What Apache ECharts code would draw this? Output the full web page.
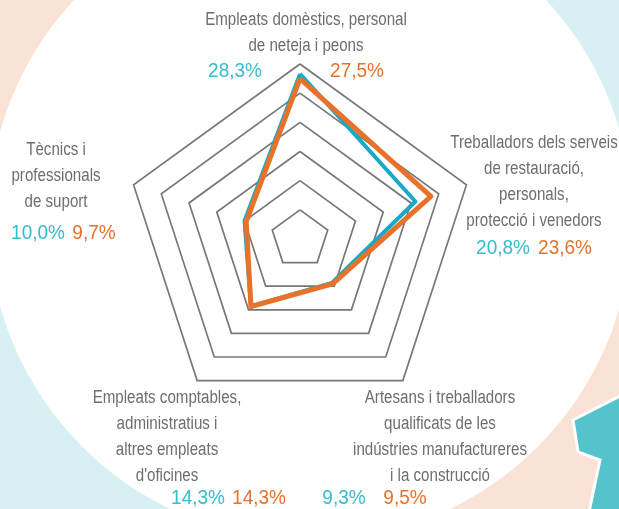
<!DOCTYPE html>
<html>
<head>
<meta charset="utf-8">
<script src="https://cdn.jsdelivr.net/npm/echarts@6/dist/echarts.min.js"></script>
<style>
  html, body { margin: 0; padding: 0; background: #fff; }
  #chart { width: 619px; height: 509px; }
</style>
</head>
<body>
<div id="chart"></div>
<script>
// categories, counterclockwise from the top
const categories = [
  "Empleats domèstics, personal\nde neteja i peons",
  "Tècnics i\nprofessionals\nde suport",
  "Empleats comptables,\nadministratius i\naltres empleats\nd'oficines",
  "Artesans i treballadors\nqualificats de les\nindústries manufactureres\ni la construcció",
  "Treballadors dels serveis\nde restauració,\npersonals,\nprotecció i venedors"
];
const cyanValues = [28.3, 10.0, 14.3, 9.3, 20.8];
const orangeValues = [27.5, 9.7, 14.3, 9.5, 23.6];
const axisMax = 30;

// where the text labels sit (name centre / first line, then the two percentages)
const nameSpots = [[306, 20], [56, 150], [167, 398], [440, 398], [534, 143]];
const cyanSpots = [[235, 71], [38, 233], [198, 498], [344, 498], [503, 248]];
const orangeSpots = [[357, 71], [94, 233], [259, 498], [405, 498], [565, 248]];

const CYAN = '#17a9c6';
const CYAN_TXT = '#35bccd';
const ORANGE = '#e8722a';
const GREY = '#6d6e70';
const nameFont = '18px "Liberation Sans", Arial, sans-serif';
const pctFont = '20px "Liberation Sans", Arial, sans-serif';

function pct(v) {
  return v.toFixed(1).replace('.', ',') + '%';
}

const chart = echarts.init(document.getElementById('chart'));

const graphics = [
  // background pieces
  { type: 'rect', z: -20, silent: true, shape: { x: 0, y: 0, width: 310, height: 219 }, style: { fill: '#fbe2d7' } },
  { type: 'rect', z: -20, silent: true, shape: { x: 310, y: 0, width: 309, height: 219 }, style: { fill: '#d7f0f3' } },
  { type: 'rect', z: -20, silent: true, shape: { x: 0, y: 219, width: 310, height: 290 }, style: { fill: '#d7f0f3' } },
  { type: 'rect', z: -20, silent: true, shape: { x: 310, y: 219, width: 309, height: 290 }, style: { fill: '#fbe2d7' } },
  { type: 'circle', z: -19, silent: true, shape: { cx: 310, cy: 219, r: 322 }, style: { fill: '#ffffff' } },
  { type: 'polygon', z: -18, silent: true,
    shape: { points: [[573, 420], [622, 395], [622, 512], [589, 512], [600, 460], [578, 452]] },
    style: { fill: '#55c3cc', stroke: '#ffffff', lineWidth: 3 } }
];

categories.forEach(function (name, i) {
  graphics.push({
    type: 'text', z: 10, silent: true,
    x: nameSpots[i][0], y: nameSpots[i][1] - 13, scaleX: 0.84,
    style: {
      text: name, x: 0, y: 0,
      font: nameFont, fill: GREY, align: 'center', verticalAlign: 'top', lineHeight: 26
    }
  });
  graphics.push({
    type: 'text', z: 10, silent: true,
    x: cyanSpots[i][0], y: cyanSpots[i][1], scaleX: 0.95,
    style: {
      text: pct(cyanValues[i]), x: 0, y: 0,
      font: pctFont, fill: CYAN_TXT, align: 'center', verticalAlign: 'middle'
    }
  });
  graphics.push({
    type: 'text', z: 10, silent: true,
    x: orangeSpots[i][0], y: orangeSpots[i][1], scaleX: 0.95,
    style: {
      text: pct(orangeValues[i]), x: 0, y: 0,
      font: pctFont, fill: ORANGE, align: 'center', verticalAlign: 'middle'
    }
  });
});

const option = {
  animation: false,
  backgroundColor: '#ffffff',
  graphic: { elements: graphics },
  radar: {
    center: [300, 239],
    radius: 175,
    startAngle: 90,
    splitNumber: 6,
    shape: 'polygon',
    indicator: categories.map(function (c) { return { name: c, max: axisMax, min: 0 }; }),
    axisName: { show: false },
    axisLine: { show: false },
    axisTick: { show: false },
    axisLabel: { show: false },
    splitArea: { show: false },
    splitLine: { lineStyle: { color: '#777777', width: 1.7 } }
  },
  series: [
    {
      type: 'radar',
      symbol: 'none',
      z: 3,
      data: [
        { name: 'Sèrie 1', value: cyanValues, lineStyle: { color: CYAN, width: 4 } }
      ]
    },
    {
      type: 'radar',
      symbol: 'none',
      z: 4,
      data: [
        { name: 'Sèrie 2', value: orangeValues, lineStyle: { color: ORANGE, width: 5 } }
      ]
    }
  ]
};

chart.setOption(option);
</script>
</body>
</html>
